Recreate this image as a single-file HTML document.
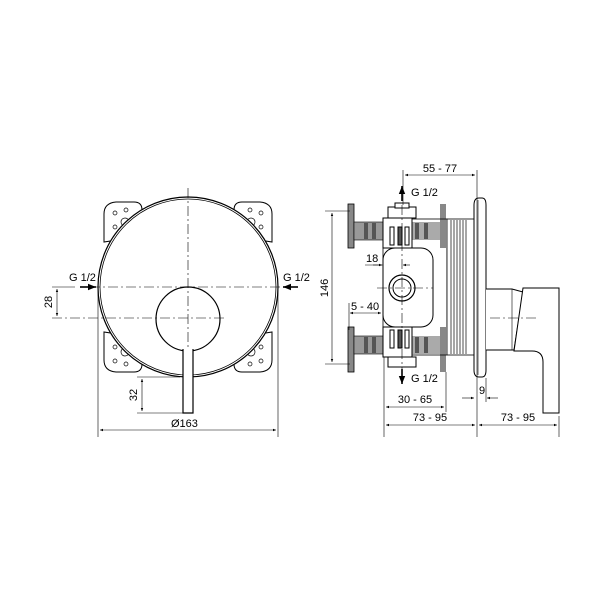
<!DOCTYPE html>
<html><head><meta charset="utf-8"><style>
html,body{margin:0;padding:0;background:#fff;}
svg{display:block;font-family:"Liberation Sans",Arial,sans-serif;}
</style></head><body>
<svg width="603" height="603" viewBox="0 0 603 603" xmlns="http://www.w3.org/2000/svg">
<defs>
<marker id="a" viewBox="0 0 10 10" refX="10" refY="5" markerWidth="7" markerHeight="5" orient="auto-start-reverse"><path d="M0,1 L10,5 L0,9 z" fill="#000"/></marker>
</defs>
<g fill="none" stroke="#000" stroke-width="1">
<g stroke-width="1">
<path d="M104,214 q0,-11 12,-12 h18 q8,0 8,8 v26 l-38,6 z" fill="#fff"/>
<path d="M272,214 q0,-11 -12,-12 h-18 q-8,0 -8,8 v26 l38,6 z" fill="#fff"/>
<path d="M104,360 q0,11 12,12 h18 q8,0 8,-8 v-26 l-38,-6 z" fill="#fff"/>
<path d="M272,360 q0,11 -12,12 h-18 q-8,0 -8,-8 v-26 l38,-6 z" fill="#fff"/>
</g>
<g stroke-width="0.7">
<circle cx="115" cy="227" r="2"/><circle cx="115" cy="213" r="2"/><circle cx="126" cy="210" r="2"/><circle cx="125" cy="222" r="4"/>
<circle cx="261" cy="227" r="2"/><circle cx="261" cy="213" r="2"/><circle cx="250" cy="210" r="2"/><circle cx="251" cy="222" r="4"/>
<circle cx="115" cy="347" r="2"/><circle cx="115" cy="361" r="2"/><circle cx="126" cy="364" r="2"/><circle cx="125" cy="352" r="4"/>
<circle cx="261" cy="347" r="2"/><circle cx="261" cy="361" r="2"/><circle cx="250" cy="364" r="2"/><circle cx="251" cy="352" r="4"/>
</g>
<circle cx="188" cy="287" r="90" fill="#fff" stroke-width="1.2"/>
<circle cx="188" cy="287" r="88" stroke-width="0.8"/>
<circle cx="188" cy="319" r="32" fill="#fff" stroke-width="1.2"/>
<path d="M183,349 V413 H193 V349" fill="#fff" stroke-width="1.2"/>
<g stroke-width="0.6" stroke-dasharray="10,3,2,3">
<line x1="188" y1="188" x2="188" y2="350"/>
<line x1="90" y1="287" x2="292" y2="287"/>
<line x1="52" y1="318" x2="226" y2="318"/>
</g>
<g stroke-width="0.6">
<line x1="52" y1="287" x2="75" y2="287"/>
<line x1="57" y1="289" x2="57" y2="316" marker-start="url(#a)" marker-end="url(#a)"/>
<line x1="137" y1="377" x2="180" y2="377"/>
<line x1="137" y1="413" x2="183" y2="413"/>
<line x1="142" y1="379" x2="142" y2="411" marker-start="url(#a)" marker-end="url(#a)"/>
<line x1="98" y1="290" x2="98" y2="437"/>
<line x1="278" y1="290" x2="278" y2="437"/>
<line x1="100" y1="430" x2="276" y2="430" marker-start="url(#a)" marker-end="url(#a)"/>
</g>
<line x1="80" y1="287" x2="96" y2="287" stroke-width="1.6" marker-end="url(#a)"/>
<line x1="298" y1="287" x2="283" y2="287" stroke-width="1.6" marker-end="url(#a)"/>

<rect x="348" y="204" width="6" height="44" fill="#888" stroke-width="0.8"/>
<rect x="348" y="327" width="6" height="45" fill="#888" stroke-width="0.8"/>
<rect x="354" y="222" width="29" height="18" fill="#999" stroke-width="0.6"/>
<rect x="354" y="336" width="29" height="18" fill="#999" stroke-width="0.6"/>
<rect x="364" y="223" width="4" height="16" fill="#555" stroke="none"/><rect x="372" y="223" width="4" height="16" fill="#555" stroke="none"/>
<rect x="364" y="337" width="4" height="16" fill="#555" stroke="none"/><rect x="372" y="337" width="4" height="16" fill="#555" stroke="none"/>
<rect x="411" y="222" width="30" height="18" fill="#aaa" stroke="none"/>
<rect x="411" y="336" width="30" height="18" fill="#aaa" stroke="none"/>
<rect x="415" y="223" width="4" height="16" fill="#555" stroke="none"/><rect x="424" y="223" width="4" height="16" fill="#555" stroke="none"/>
<rect x="415" y="337" width="4" height="16" fill="#555" stroke="none"/><rect x="424" y="337" width="4" height="16" fill="#555" stroke="none"/>
<rect x="440" y="204" width="6" height="44" fill="#888" stroke="none"/>
<rect x="440" y="327" width="6" height="45" fill="#888" stroke="none"/>
<rect x="383" y="219" width="64" height="136" fill="none" stroke-width="0.8"/>
<rect x="383" y="218" width="29" height="30" fill="#fff"/>
<rect x="383" y="327" width="29" height="30" fill="#fff"/>
<rect x="388" y="207" width="28" height="11" fill="#fff"/>
<rect x="395" y="203" width="14" height="5" fill="#fff"/>
<rect x="388" y="357" width="28" height="10" fill="#fff"/>
<rect x="390" y="227" width="4" height="18" fill="#fff"/><rect x="398" y="227" width="4" height="18" fill="#555"/><rect x="405" y="227" width="4" height="18" fill="#fff"/>
<rect x="390" y="330" width="4" height="18" fill="#fff"/><rect x="398" y="330" width="4" height="18" fill="#555"/><rect x="405" y="330" width="4" height="18" fill="#fff"/>
<rect x="383" y="248" width="50" height="79" rx="12" fill="#fff"/>
<circle cx="402" cy="288" r="13" fill="#fff" stroke-width="1.2"/>
<circle cx="402" cy="288" r="9"/>
<rect x="447" y="219" width="27" height="136" fill="#fff" stroke-width="0.8"/>
<g stroke-width="0.7">
<line x1="451" y1="220" x2="451" y2="354"/><line x1="454" y1="220" x2="454" y2="354"/><line x1="457" y1="220" x2="457" y2="354"/><line x1="460" y1="220" x2="460" y2="354"/><line x1="463" y1="220" x2="463" y2="354"/><line x1="466" y1="220" x2="466" y2="354"/>
</g>
<path d="M474,205 q0,-7 5,-7 h3 q4,0 4,7 V370 q0,7 -4,7 h-3 q-5,0 -5,-7 z" fill="#fff" stroke-width="1"/>
<line x1="478" y1="200" x2="478" y2="375" stroke-width="0.6"/>
<path d="M486,289 H512 L523,292 L514,350 H486" fill="#fff" stroke-width="1"/>
<line x1="512" y1="289" x2="512" y2="350" stroke-width="0.6"/>
<path d="M523,288 H559 V413 H543 V362 Q543,351 532,351 H514 Z" fill="#fff" stroke-width="1"/>
<line x1="490" y1="318" x2="538" y2="318" stroke-width="0.6" stroke-dasharray="10,3,2,3"/>
<g stroke-width="0.6" stroke-dasharray="10,3,2,3">
<line x1="402" y1="205" x2="402" y2="370"/>
<line x1="377" y1="288" x2="433" y2="288"/>
</g>
<g stroke-width="0.6">
<line x1="403" y1="170" x2="403" y2="205"/>
<line x1="477" y1="170" x2="477" y2="437"/>
<line x1="405" y1="175" x2="475" y2="175" marker-start="url(#a)" marker-end="url(#a)"/>
<line x1="325" y1="211" x2="350" y2="211"/>
<line x1="325" y1="364" x2="350" y2="364"/>
<line x1="332" y1="213" x2="332" y2="362" marker-start="url(#a)" marker-end="url(#a)"/>
<line x1="365" y1="265" x2="383" y2="265"/><line x1="373" y1="265" x2="382" y2="265" marker-end="url(#a)"/>
<line x1="410" y1="265" x2="403" y2="265" marker-end="url(#a)"/>
<line x1="349" y1="303" x2="349" y2="330"/>
<line x1="350" y1="313" x2="381" y2="313" marker-start="url(#a)" marker-end="url(#a)"/>
<line x1="384" y1="357" x2="384" y2="437"/>
<line x1="446" y1="372" x2="446" y2="412"/>
<line x1="386" y1="407" x2="444" y2="407" marker-start="url(#a)" marker-end="url(#a)"/>
<line x1="462" y1="398" x2="474" y2="398" marker-end="url(#a)"/>
<line x1="498" y1="398" x2="487" y2="398" marker-end="url(#a)"/>
<line x1="486" y1="378" x2="486" y2="402"/>
<line x1="559" y1="416" x2="559" y2="437"/>
<line x1="386" y1="425" x2="475" y2="425" marker-start="url(#a)" marker-end="url(#a)"/>
<line x1="479" y1="425" x2="557" y2="425" marker-start="url(#a)" marker-end="url(#a)"/>
</g>
<line x1="402" y1="201" x2="402" y2="186" stroke-width="1.6" marker-end="url(#a)"/>
<line x1="402" y1="369" x2="402" y2="384" stroke-width="1.6" marker-end="url(#a)"/>
</g>
<g font-size="11" fill="#000">
<text x="69" y="281">G 1/2</text>
<text x="283" y="281">G 1/2</text>
<text x="171" y="427">Ø163</text>
<text transform="translate(52,302) rotate(-90)" text-anchor="middle">28</text>
<text transform="translate(137,395) rotate(-90)" text-anchor="middle">32</text>
<text x="440" y="172" text-anchor="middle">55 - 77</text>
<text x="411" y="196">G 1/2</text>
<text x="411" y="382">G 1/2</text>
<text x="366" y="262">18</text>
<text x="351" y="310">5 - 40</text>
<text transform="translate(328,288) rotate(-90)" text-anchor="middle">146</text>
<text x="415" y="403" text-anchor="middle">30 - 65</text>
<text x="482" y="394" text-anchor="middle">9</text>
<text x="430" y="421" text-anchor="middle">73 - 95</text>
<text x="518" y="421" text-anchor="middle">73 - 95</text>
</g>
</svg>
</body></html>
